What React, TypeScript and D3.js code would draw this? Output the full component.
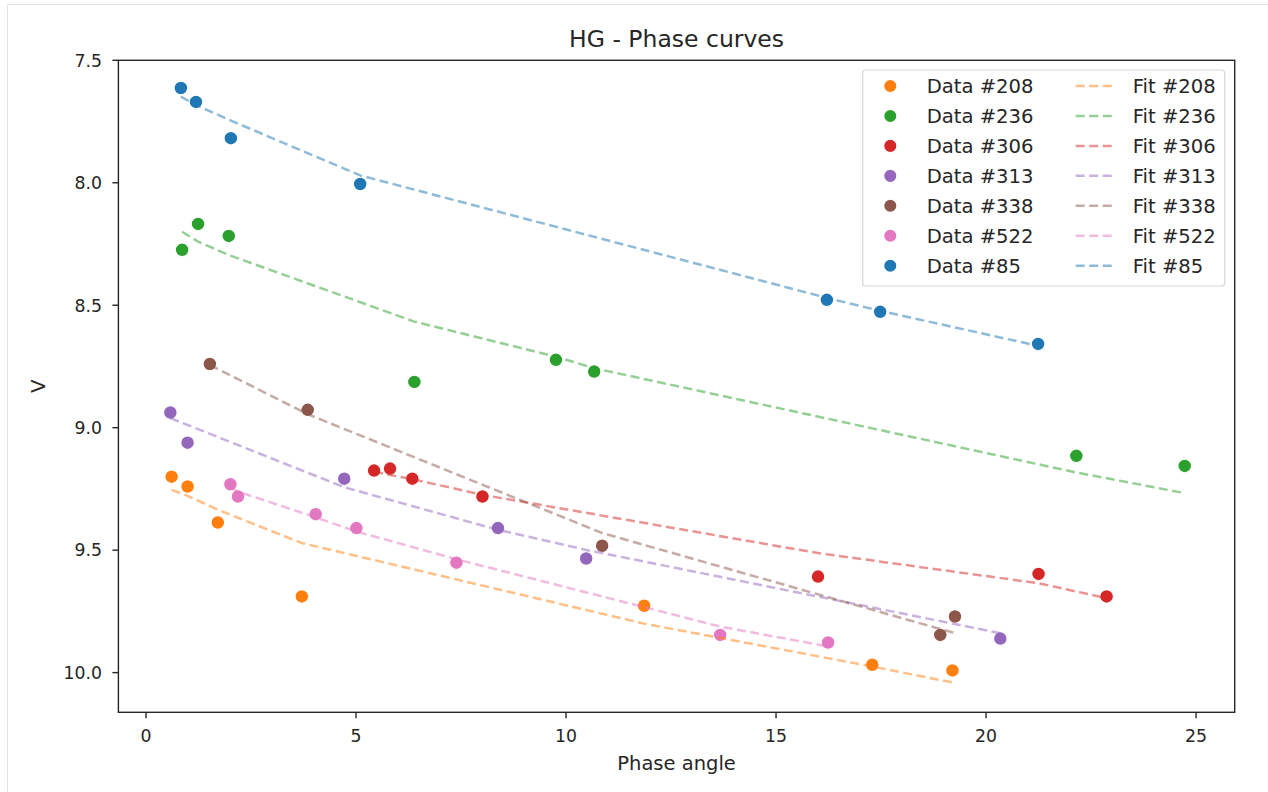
import React, { useEffect, useRef } from "react";
import * as d3 from "d3";

// asteroid ids and tab10 colours, in legend order
const ids = ["208", "236", "306", "313", "338", "522", "85"];
const colors = ["#ff7f0e", "#2ca02c", "#d62728", "#9467bd", "#8c564b", "#e377c2", "#1f77b4"];

// phase angle / observed V / fitted V, per asteroid
const phase208 = [0.61, 0.99, 1.71, 3.71, 11.86, 17.29, 19.2];
const mag208 = [9.2, 9.24, 9.387, 9.689, 9.727, 9.968, 9.991];
const fit208 = [9.254, 9.278, 9.335, 9.471, 9.8, 9.975, 10.04];

const phase236 = [0.86, 1.24, 1.97, 6.39, 9.76, 10.67, 22.15, 24.73];
const mag236 = [8.274, 8.168, 8.217, 8.813, 8.723, 8.771, 9.115, 9.156];
const fit236 = [8.2, 8.24, 8.295, 8.567, 8.71, 8.757, 9.183, 9.267];

const phase306 = [5.43, 5.81, 6.34, 8.01, 16.0, 21.25, 22.87];
const mag306 = [9.175, 9.167, 9.208, 9.281, 9.608, 9.597, 9.689];
const fit306 = [9.18, 9.193, 9.21, 9.274, 9.512, 9.635, 9.696];

const phase313 = [0.58, 0.99, 4.72, 8.38, 10.48, 20.34];
const mag313 = [8.938, 9.061, 9.208, 9.41, 9.534, 9.861];
const fit313 = [8.961, 8.989, 9.243, 9.417, 9.499, 9.839];

const phase338 = [1.52, 3.85, 10.86, 18.91, 19.26];
const mag338 = [8.74, 8.927, 9.482, 9.846, 9.771];
const fit338 = [8.744, 8.945, 9.43, 9.822, 9.838];

const phase522 = [2.01, 2.19, 4.04, 5.01, 7.39, 13.67, 16.24];
const mag522 = [9.231, 9.281, 9.353, 9.41, 9.551, 9.846, 9.877];
const fit522 = [9.245, 9.261, 9.366, 9.424, 9.537, 9.812, 9.893];

const phase85 = [0.83, 1.19, 2.02, 5.1, 16.21, 17.48, 21.24];
const mag85 = [7.613, 7.67, 7.818, 8.005, 8.478, 8.527, 8.658];
const fit85 = [7.648, 7.683, 7.746, 7.97, 8.47, 8.523, 8.666];

const xTicks = [0, 5, 10, 15, 20, 25];
const yTicks = [7.5, 8.0, 8.5, 9.0, 9.5, 10.0];

const phases = [phase208, phase236, phase306, phase313, phase338, phase522, phase85];
const mags = [mag208, mag236, mag306, mag313, mag338, mag522, mag85];
const fits = [fit208, fit236, fit306, fit313, fit338, fit522, fit85];

function App() {
  const ref = useRef(null);

  useEffect(() => {
    const svg = d3.select(ref.current);
    svg.selectAll("*").remove();
    const font = "DejaVu Sans, sans-serif";
    const ink = "#262626";
    const left = 118.4, right = 1234.7, top = 60.3, bottom = 712.3;

    const x = d3.scaleLinear().domain([-0.657, 25.92]).range([left, right]);
    const y = d3.scaleLinear().domain([7.5, 10.162]).range([top, bottom]);

    // notebook output frame
    svg.append("path").attr("d", "M7.5,792 V4.5 H1268").attr("fill", "none").attr("stroke", "#e4e4e4");

    const series = ids.map((id, i) => ({
      id,
      color: colors[i],
      pts: phases[i].map((p, j) => ({ p, v: mags[i][j], f: fits[i][j] })),
    }));

    // scatter (drawn below the fit lines, as in matplotlib)
    series.forEach((s) => {
      svg.append("g")
        .selectAll("circle")
        .data(s.pts)
        .enter()
        .append("circle")
        .attr("cx", (d) => x(d.p))
        .attr("cy", (d) => y(d.v))
        .attr("r", 6.8)
        .attr("fill", s.color)
        .attr("stroke", "white")
        .attr("stroke-width", 1.1);
    });

    const line = d3.line().x((d) => x(d.p)).y((d) => y(d.f));
    series.forEach((s) => {
      svg.append("path")
        .datum(s.pts)
        .attr("d", line)
        .attr("fill", "none")
        .attr("stroke", s.color)
        .attr("stroke-opacity", 0.5)
        .attr("stroke-width", 2.5)
        .attr("stroke-dasharray", "9,4.5");
    });

    // spines
    svg.append("rect")
      .attr("x", left).attr("y", top)
      .attr("width", right - left).attr("height", bottom - top)
      .attr("fill", "none").attr("stroke", ink).attr("stroke-width", 1.4);

    // x ticks
    const xg = svg.append("g");
    xTicks.forEach((t) => {
      xg.append("line")
        .attr("x1", x(t)).attr("x2", x(t))
        .attr("y1", bottom).attr("y2", bottom + 6)
        .attr("stroke", ink).attr("stroke-width", 1.4);
      xg.append("text")
        .attr("x", x(t)).attr("y", 741.5)
        .attr("text-anchor", "middle")
        .attr("font-family", font).attr("font-size", 17.3).attr("fill", ink)
        .text(d3.format("d")(t));
    });

    // y ticks
    const yg = svg.append("g");
    yTicks.forEach((t) => {
      yg.append("line")
        .attr("x1", left - 6).attr("x2", left)
        .attr("y1", y(t)).attr("y2", y(t))
        .attr("stroke", ink).attr("stroke-width", 1.4);
      yg.append("text")
        .attr("x", 102).attr("y", y(t) + 6.3)
        .attr("text-anchor", "end")
        .attr("font-family", font).attr("font-size", 17.3).attr("fill", ink)
        .text(d3.format(".1f")(t));
    });

    svg.append("text")
      .attr("x", (left + right) / 2).attr("y", 47.3)
      .attr("text-anchor", "middle")
      .attr("font-family", font).attr("font-size", 23.5).attr("fill", ink)
      .text("HG - Phase curves");

    svg.append("text")
      .attr("x", (left + right) / 2).attr("y", 770)
      .attr("text-anchor", "middle")
      .attr("font-family", font).attr("font-size", 19.5).attr("fill", ink)
      .text("Phase angle");

    svg.append("text")
      .attr("transform", `translate(45,${(top + bottom) / 2}) rotate(-90)`)
      .attr("text-anchor", "middle")
      .attr("font-family", font).attr("font-size", 19.5).attr("fill", ink)
      .text("V");

    // legend
    const lg = svg.append("g");
    lg.append("rect")
      .attr("x", 862.7).attr("y", 70)
      .attr("width", 362).attr("height", 216)
      .attr("rx", 3)
      .attr("fill", "white").attr("fill-opacity", 0.8)
      .attr("stroke", "#d6d6d6").attr("stroke-width", 1.2);
    series.forEach((s, i) => {
      const cy = 86 + i * 29.95;
      lg.append("circle")
        .attr("cx", 890.3).attr("cy", cy).attr("r", 6.6)
        .attr("fill", s.color).attr("stroke", "white").attr("stroke-width", 1.1);
      lg.append("text")
        .attr("x", 926.7).attr("y", cy + 7.3)
        .attr("font-family", font).attr("font-size", 19.6).attr("fill", ink)
        .text(`Data #${s.id}`);
      lg.append("line")
        .attr("x1", 1075.7).attr("x2", 1116)
        .attr("y1", cy).attr("y2", cy)
        .attr("stroke", s.color).attr("stroke-opacity", 0.5)
        .attr("stroke-width", 2.5).attr("stroke-dasharray", "9,4.5");
      lg.append("text")
        .attr("x", 1132.7).attr("y", cy + 7.3)
        .attr("font-family", font).attr("font-size", 19.6).attr("fill", ink)
        .text(`Fit #${s.id}`);
    });
  }, []);

  return (
    <svg
      ref={ref}
      width={1268}
      height={792}
      style={{ position: "absolute", left: 0, top: 0, background: "white" }}
    />
  );
}

export default App;
